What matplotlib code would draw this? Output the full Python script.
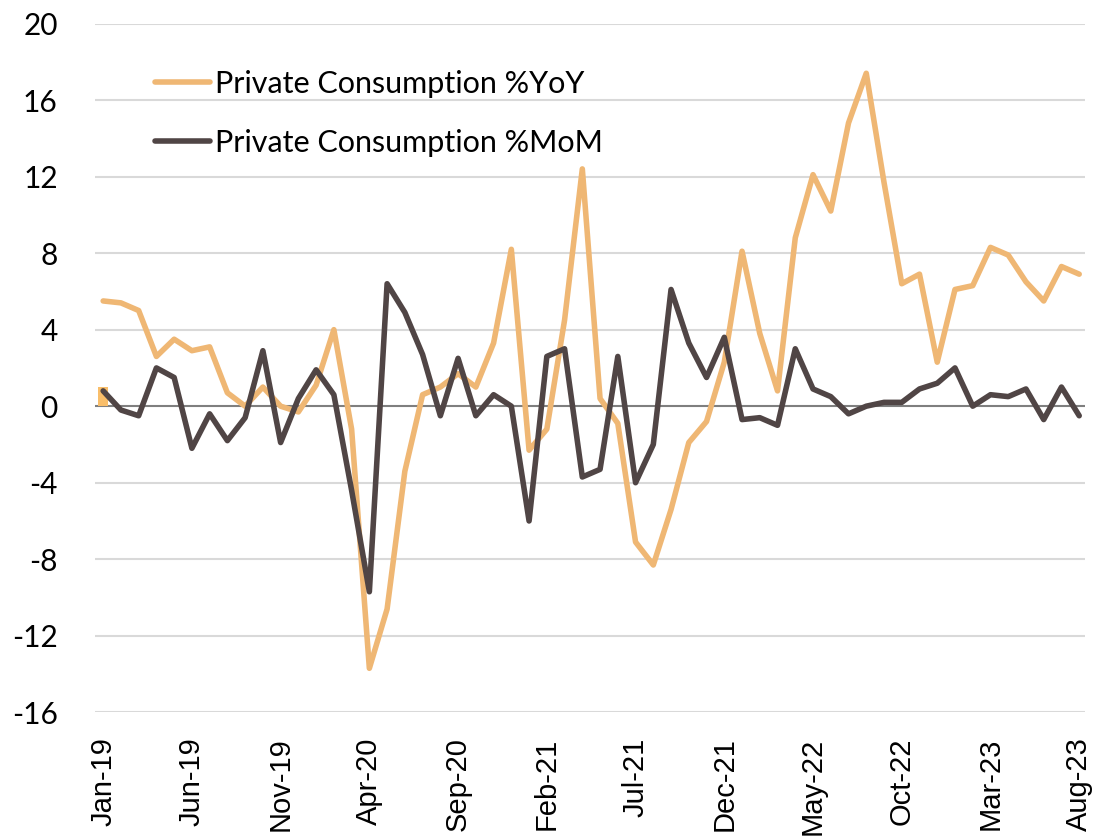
import numpy as np
import pandas as pd
import matplotlib

matplotlib.use("Agg")
import matplotlib.pyplot as plt

# monthly, Jan-19 .. Aug-23
months = pd.date_range("2019-01-01", "2023-08-01", freq="MS")
month_labels = [d.strftime("%b-%y") for d in months]

yoy = [
    5.5, 5.4, 5.0, 2.6, 3.5, 2.9, 3.1, 0.7, 0.0, 1.0, 0.0, -0.3,
    1.1, 4.0, -1.2, -13.7, -10.6, -3.4, 0.6, 1.0, 1.7, 1.0, 3.3, 8.2,
    -2.3, -1.2, 4.5, 12.4, 0.4, -0.9, -7.1, -8.3, -5.4, -1.9, -0.8, 2.3,
    8.1, 3.8, 0.8, 8.8, 12.1, 10.2, 14.8, 17.4, 11.7, 6.4, 6.9, 2.3,
    6.1, 6.3, 8.3, 7.9, 6.5, 5.5, 7.3, 6.9,
]
mom = [
    0.8, -0.2, -0.5, 2.0, 1.5, -2.2, -0.4, -1.8, -0.6, 2.9, -1.9, 0.4,
    1.9, 0.6, -4.4, -9.7, 6.4, 4.9, 2.7, -0.5, 2.5, -0.5, 0.6, 0.0,
    -6.0, 2.6, 3.0, -3.7, -3.3, 2.6, -4.0, -2.0, 6.1, 3.3, 1.5, 3.6,
    -0.7, -0.6, -1.0, 3.0, 0.9, 0.5, -0.4, 0.0, 0.2, 0.2, 0.9, 1.2,
    2.0, 0.0, 0.6, 0.5, 0.9, -0.7, 1.0, -0.5,
]
# small orange block sitting on the first month
first_bar = 1.0

yticks = list(range(-16, 21, 4))

c_yoy = "#EFB774"
c_mom = "#504545"

plt.rcParams["font.family"] = ["Lato", "DejaVu Sans"]
plt.rcParams["axes.unicode_minus"] = False

fig = plt.figure(figsize=(10.94, 8.4), dpi=100)
ax = fig.add_axes([0.087, 0.152, 0.905, 0.820])

x = np.arange(len(months))

for y in yticks:
    if y != 0:
        ax.axhline(y, color="#D9D9D9", lw=1.5, zorder=0)
ax.axhline(0, color="#7F7F7F", lw=1.5, zorder=1)

ax.bar([0], [first_bar], width=0.55, color="#F9BE6A", zorder=2)
ax.plot(x, yoy, color=c_yoy, lw=4, solid_joinstyle="round",
        solid_capstyle="round", label="Private Consumption %YoY", zorder=3)
ax.plot(x, mom, color=c_mom, lw=4, solid_joinstyle="round",
        solid_capstyle="round", label="Private Consumption %MoM", zorder=4)

ax.set_xlim(-0.45, len(months) - 1 + 0.34)
ax.set_ylim(-16, 20)
ax.set_yticks(yticks)
ax.set_xticks(x[::5])
ax.set_xticklabels(month_labels[::5], rotation=90,
                   family=["Liberation Sans", "DejaVu Sans"], fontsize=21)
ax.tick_params(axis="y", length=0, labelsize=21.5, colors="#000000", pad=27)
ax.tick_params(axis="x", length=0, colors="#000000", pad=18)
for s in ax.spines.values():
    s.set_visible(False)

ax.legend(loc="upper left", bbox_to_anchor=(155 / 1094, 1 - 70 / 840),
          bbox_transform=fig.transFigure, frameon=False, borderpad=0,
          borderaxespad=0, fontsize=22, handlelength=1.8,
          handletextpad=0.15, labelspacing=1.0)

fig.savefig("out.png", dpi=100)
